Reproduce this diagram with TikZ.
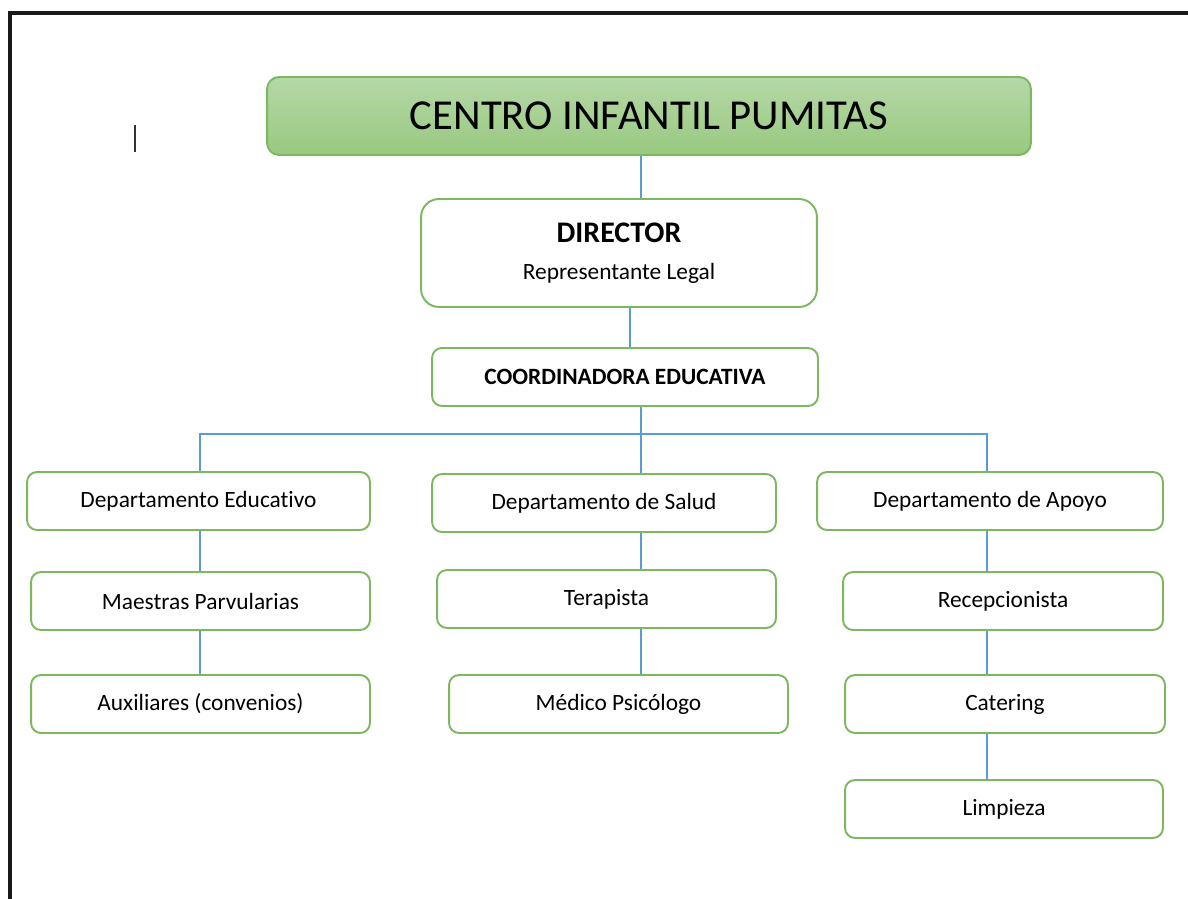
\documentclass[tikz,border=0pt]{standalone}
\usepackage{fontspec}
\setmainfont{Carlito}[Ligatures=NoCommon]
\usetikzlibrary{positioning}
\definecolor{boxgreen}{HTML}{7CB85F}
\definecolor{linkblue}{HTML}{5B9BD5}
\definecolor{topgreen}{HTML}{B5D8A7}
\definecolor{lowgreen}{HTML}{98C980}
\begin{document}
\begin{tikzpicture}[
        x=0.02cm, y=-0.02cm,
        box/.style={
          draw=boxgreen,
          line width=1.1pt,
          rounded corners=0.2cm,
          fill=white,
          minimum height=1.16cm,
          inner sep=0pt,
          font=\fontsize{13.3}{16}\selectfont
          },
        titlebox/.style={
          box,
          top color=topgreen,
          bottom color=lowgreen,
          rounded corners=0.24cm,
          minimum width=15.28cm,
          minimum height=1.56cm,
          font=\fontsize{24.3}{28}\selectfont
          },
        link/.style={
          draw=linkblue,
          line width=0.8pt
          },
        frame/.style={
          line width=2.8pt,
          black!90
          }
        ]
        \useasboundingbox (0,0) rectangle (1188,899);
        \draw[frame] (10,899) -- (10,13) -- (1188,13);
        \draw[black!80, line width=0.8pt] (135,125) -- (135,152);
        % heads
        \node[titlebox] (centro) at (649,116) {CENTRO INFANTIL PUMITAS};
        \node[box, minimum width=7.92cm, minimum height=2.16cm, rounded corners=0.36cm,
              align=center] (director) at (619,253)
              {\fontsize{17}{20}\selectfont\bfseries DIRECTOR\\[5pt] Representante Legal};
        \node[box, minimum width=7.72cm, font=\fontsize{13.3}{16}\selectfont\bfseries]
              (coordinadora) at (625,377) {COORDINADORA EDUCATIVA};
        % departments
        \node[box, minimum width=6.86cm] (educativo) at (198.5,501) {Departamento Educativo};
        \node[box, minimum width=6.88cm] (salud) at (604,503) {Departamento de Salud};
        \node[box, minimum width=6.92cm] (apoyo) at (990,501) {Departamento de Apoyo};
        % staff
        \node[box, minimum width=6.78cm] (maestras) at (200.5,601) {Maestras Parvularias};
        \node[box, minimum width=6.78cm] (auxiliares) at (200.5,704) {Auxiliares (convenios)};
        \node[box, minimum width=6.78cm] (terapista) at (606.5,599) {Terapista};
        \node[box, minimum width=6.78cm] (medico) at (618.5,704) {Médico Psicólogo};
        \node[box, minimum width=6.40cm] (recepcion) at (1003,601) {Recepcionista};
        \node[box, minimum width=6.40cm] (catering) at (1005,704) {Catering};
        \node[box, minimum width=6.36cm] (limpieza) at (1004,809) {Limpieza};
        % connector columns
        \coordinate (spine) at (641,0);
        \coordinate (stem) at (630,0);
        \coordinate (colA) at (200,0);
        \coordinate (colC) at (987,0);
        \coordinate (bus) at (641,434);
        \draw[link] (centro.south -| spine) -- (director.north -| spine);
        \draw[link] (director.south -| stem) -- (coordinadora.north -| stem);
        \draw[link] (coordinadora.south -| spine) -- (salud.north -| spine);
        \draw[link] (educativo.north -| colA) |- (bus) -| (apoyo.north -| colC);
        \foreach \up/\down in {educativo/maestras,maestras/auxiliares}
          \draw[link] (\up.south -| colA) -- (\down.north -| colA);
        \foreach \up/\down in {salud/terapista,terapista/medico}
          \draw[link] (\up.south -| spine) -- (\down.north -| spine);
        \foreach \up/\down in {apoyo/recepcion,recepcion/catering,catering/limpieza}
          \draw[link] (\up.south -| colC) -- (\down.north -| colC);
\end{tikzpicture}
\end{document}
